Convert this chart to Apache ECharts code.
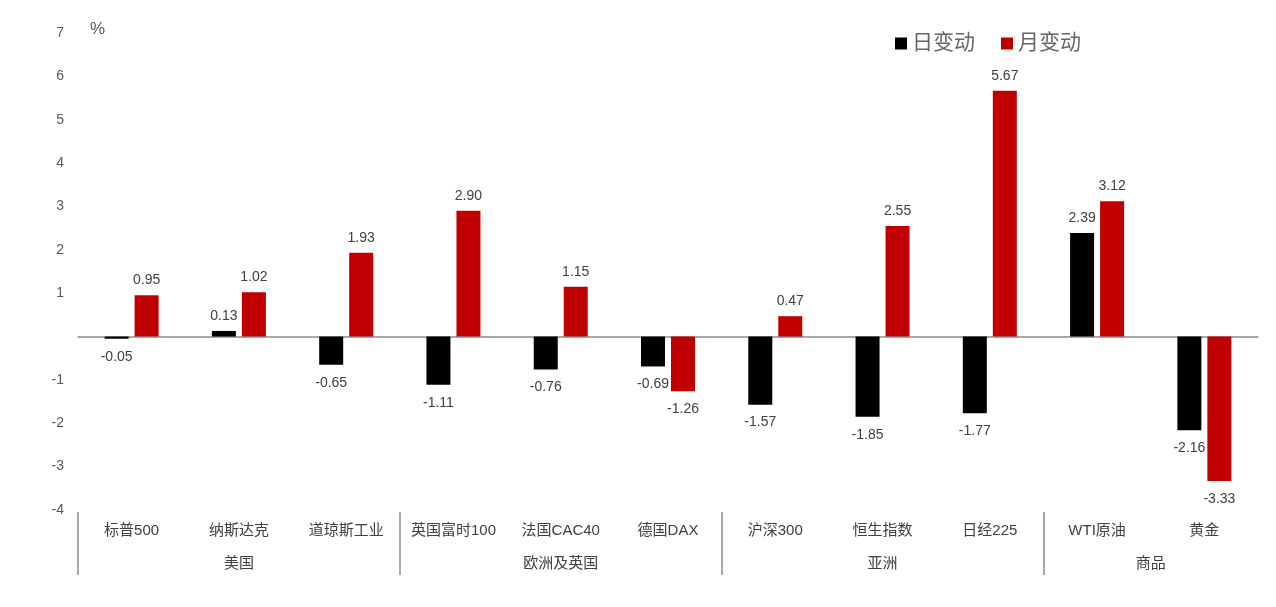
<!DOCTYPE html>
<html><head><meta charset="utf-8">
<script src="https://cdn.jsdelivr.net/npm/echarts@6/dist/echarts.min.js"></script>
<style>html,body{margin:0;padding:0;background:#fff}#c{width:1276px;height:607px}</style>
</head><body><div id="c"></div>
<script>
const categories = ['标普500','纳斯达克','道琼斯工业','英国富时100','法国CAC40','德国DAX','沪深300','恒生指数','日经225','WTI原油','黄金'];
const groupNames = ['美国','欧洲及英国','亚洲','商品'];
const groupSizes = [3,3,3,2];
const dailyChange = [-0.05,0.13,-0.65,-1.11,-0.76,-0.69,-1.57,-1.85,-1.77,2.39,-2.16];
const monthlyChange = [0.95,1.02,1.93,2.90,1.15,-1.26,0.47,2.55,5.67,3.12,-3.33];
const yTicks = {min:-4, max:7, interval:1};

const FONT = '"Liberation Sans","Noto Sans CJK SC",sans-serif';
const groupCenters = [], groupStarts = [];
let acc = 0;
groupSizes.forEach(s => { groupStarts.push(acc); groupCenters.push(acc + s/2); acc += s; });

function mk(vals){
  return vals.map(v => ({value:v, label: v<0 ? {position:'bottom',distance:11} : {position:'top',distance:8}}));
}
const chart = echarts.init(document.getElementById('c'));
chart.setOption({
  animation:false,
  grid:{left:78,right:18,top:33,bottom:97},
  legend:{
    right:190, top:28, itemWidth:12, itemHeight:12, itemGap:26,
    icon:'rect',
    textStyle:{fontSize:21,color:'#666666',fontFamily:FONT},
    data:['日变动','月变动']
  },
  xAxis:[
    {type:'category',data:categories,axisLine:{onZero:true,lineStyle:{color:'#8c8c8c',width:1.5}},
     axisTick:{show:false},axisLabel:{show:false}},
    {type:'category',data:categories,position:'bottom',offset:0,
     axisLine:{show:false,onZero:false},
     axisTick:{show:false},
     axisLabel:{show:true,interval:0,margin:13,fontSize:15,color:'#404040',fontFamily:FONT}},
    {type:'value',min:0,max:categories.length,position:'bottom',offset:2,
     axisLine:{show:false,onZero:false},splitLine:{show:false},
     axisTick:{show:true,length:63,customValues:groupStarts,lineStyle:{color:'#8c8c8c',width:1.5}},
     axisLabel:{show:true,margin:44,fontSize:15,color:'#404040',fontFamily:FONT,
       customValues:groupCenters,
       formatter:function(v){const k=groupCenters.findIndex(c=>Math.abs(c-v)<1e-6);return k>=0?groupNames[k]:'';}}}
  ],
  yAxis:{type:'value',min:yTicks.min,max:yTicks.max,interval:yTicks.interval,
    name:'%',nameLocation:'end',nameGap:-5,
    nameTextStyle:{fontSize:17,color:'#595959',align:'left',padding:[0,0,0,12],fontFamily:FONT},
    axisLine:{show:false},axisTick:{show:false},splitLine:{show:false},
    axisLabel:{fontSize:14,color:'#595959',margin:14,fontFamily:FONT,
      formatter:function(v){return v===0?'':String(v);}}},
  series:[
    {name:'日变动',type:'bar',xAxisIndex:0,barWidth:24,barGap:'25%',data:mk(dailyChange),
     itemStyle:{color:'#000000'},
     label:{show:true,fontSize:14,color:'#404040',fontFamily:FONT,formatter:p=>p.value.toFixed(2)}},
    {name:'月变动',type:'bar',xAxisIndex:0,barWidth:24,barGap:'25%',data:mk(monthlyChange),
     itemStyle:{color:'#c00000'},
     label:{show:true,fontSize:14,color:'#404040',fontFamily:FONT,formatter:p=>p.value.toFixed(2)}}
  ]
});
</script></body></html>
